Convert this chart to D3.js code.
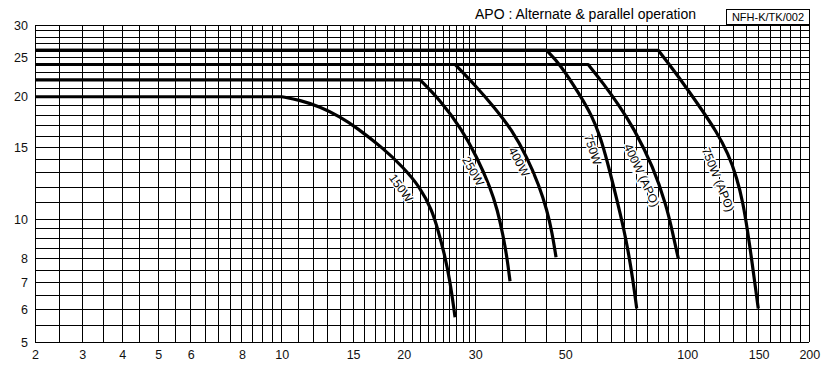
<!DOCTYPE html>
<html><head><meta charset="utf-8">
<script src="https://cdn.jsdelivr.net/npm/d3@7"></script>
<style>
html,body{margin:0;padding:0;background:#fff;}
svg{display:block;font-family:"Liberation Sans",Arial,sans-serif;}
</style></head>
<body>
<script>
// ---- data ----
const xTickLabels = [2,3,4,5,6,8,10,15,20,30,50,100,150,200];
const yTickLabels = [5,6,7,8,10,15,20,25,30];
const xGrid = [].concat(d3.range(2,10,0.5), d3.range(10,30,1), d3.range(30,100,5), d3.range(100,201,10));
const yGrid = [].concat(d3.range(5,10,0.5), d3.range(10,31,1));

// first point = left start of the flat part, second = knee, then the falling curve
const s150x  = [2, 10, 11.09, 12.43, 13.92, 15.33, 17.77, 19.92, 21.93, 23.48, 24.29, 25.13, 26.0, 26.76];
const s150y  = [20, 20, 19.63, 18.9, 17.86, 16.78, 14.96, 13.44, 12.0, 10.53, 9.41, 8.31, 7.09, 5.75];
const s250x  = [2, 21.93, 24.57, 27.79, 30.27, 32.65, 34.06, 35.14, 35.94, 36.56];
const s250y  = [22, 22, 19.63, 16.66, 14.24, 12.02, 10.53, 9.14, 8.07, 7.05];
const s400x  = [2, 26.76, 29.97, 33.57, 36.98, 40.27, 43.1, 45.11, 46.41, 47.48];
const s400y  = [24, 24, 21.36, 18.76, 16.56, 14.21, 12.13, 10.53, 9.3, 8.07];
const s750x  = [2, 45.0, 48.56, 54.4, 58.24, 60.95, 63.41, 67.12, 69.85, 71.45, 73.5, 75.07];
const s750y  = [26, 26, 24.06, 20.19, 17.93, 16.01, 13.98, 11.15, 9.41, 8.4, 7.09, 6.04];
const s400ax = [2, 57.0, 62.1, 68.28, 73.63, 82.48, 89.01, 91.74, 95.08];
const s400ay = [24, 24, 21.57, 18.9, 16.8, 13.46, 10.73, 9.41, 8.01];
const s750ax = [2, 84.84, 91.74, 100.5, 109.4, 117.8, 126.1, 132.7, 137.3, 140.8, 144.5, 147.4, 149.7];
const s750ay = [26, 26, 23.52, 20.77, 18.39, 16.47, 14.54, 12.62, 10.96, 9.41, 7.85, 6.77, 6.04];

const seriesNames = ["150W","250W","400W","750W","400W (APO)","750W (APO)"];
const seriesX = [s150x, s250x, s400x, s750x, s400ax, s750ax];
const seriesY = [s150y, s250y, s400y, s750y, s400ay, s750ay];
const labelX = [19.6, 29.5, 38.3, 58.2, 76.9, 118.5];
const labelY = [11.9, 13.1, 13.8, 14.8, 12.8, 12.5];
const labelAngle = [54, 60, 62, 72, 65, 68];

const title = "APO : Alternate & parallel operation";
const code = "NFH-K/TK/002";

// ---- chart ----
const W = 831, H = 368;
const svg = d3.select("body").append("svg").attr("width", W).attr("height", H);
svg.append("rect").attr("width", W).attr("height", H).attr("fill", "#fff");

const x = d3.scaleLog()
  .domain([2,2.5,3,3.5,4,4.5,5,10,200])
  .range([35,59.3,82.3,103.3,122.3,139.3,158.3,281.7,809.3]);
const y = d3.scaleLog().domain([5,30]).range([342,25]);

const grid = svg.append("g").attr("stroke","#000").attr("stroke-width",1).attr("shape-rendering","crispEdges");
grid.selectAll("line.v").data(xGrid).join("line")
  .attr("x1", d=>x(d)).attr("x2", d=>x(d)).attr("y1", y(30)).attr("y2", y(5));
grid.selectAll("line.h").data(yGrid).join("line")
  .attr("y1", d=>y(d)).attr("y2", d=>y(d)).attr("x1", x(2)).attr("x2", x(200));

const xAxis = svg.append("g").attr("transform", `translate(0,${y(5)})`)
  .call(d3.axisBottom(x).tickValues(xTickLabels).tickFormat(d3.format("d")).tickSize(0).tickPadding(8));
const yAxis = svg.append("g").attr("transform", `translate(${x(2)},0)`)
  .call(d3.axisLeft(y).tickValues(yTickLabels).tickFormat(d3.format("d")).tickSize(0).tickPadding(7));
[xAxis, yAxis].forEach(a => {
  a.select(".domain").remove();
  a.selectAll("text").attr("font-size", 12.5).attr("fill", "#111")
    .attr("font-family", "Liberation Sans, Arial, sans-serif");
});

// curves: straight flat part + smooth falling part
const flat = d3.line().x(d=>x(d[0])).y(d=>y(d[1]));
const fall = d3.line().x(d=>x(d[0])).y(d=>y(d[1])).curve(d3.curveBasis);
seriesNames.forEach((n,i) => {
  const pts = seriesX[i].map((v,j)=>[v, seriesY[i][j]]);
  const d = flat(pts.slice(0,2)) + fall(pts.slice(1)).replace(/^M[^LC]*/, "");
  svg.append("path").attr("d", d).attr("fill","none")
    .attr("stroke","#000").attr("stroke-width",3.2).attr("stroke-linejoin","round");
});

seriesNames.forEach((n,i) => {
  svg.append("text")
    .attr("transform", `translate(${x(labelX[i])},${y(labelY[i])}) rotate(${labelAngle[i]})`)
    .attr("text-anchor","middle").attr("dominant-baseline","middle")
    .attr("font-size", 12).attr("fill","#000")
    .attr("stroke","#fff").attr("stroke-width",3).attr("paint-order","stroke")
    .text(n);
});

svg.append("text").attr("x", 475).attr("y", 18.5).attr("font-size", 14).attr("fill","#000").text(title);
svg.append("rect").attr("x", 726.5).attr("y", 9.5).attr("width", 83).attr("height", 15)
  .attr("fill","#fff").attr("stroke","#000").attr("stroke-width",1);
svg.append("text").attr("x", 768).attr("y", 21).attr("text-anchor","middle")
  .attr("font-size", 11).attr("fill","#000").text(code);
</script>
</body></html>
